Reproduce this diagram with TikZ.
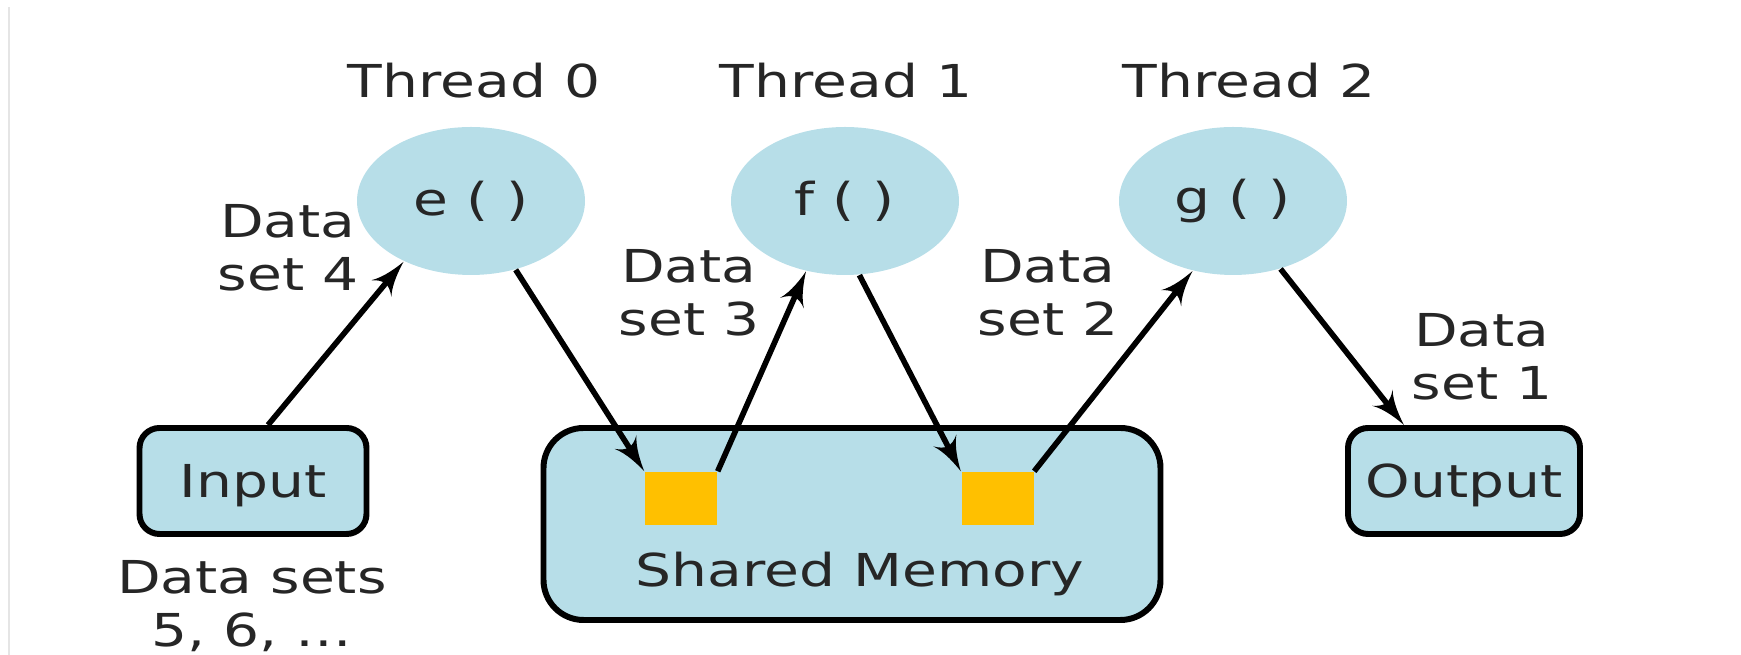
\documentclass[tikz,border=0pt]{standalone}
\usepackage{fontspec}
\setmainfont{DejaVu Sans}[FakeStretch=1.25]
\usetikzlibrary{arrows}
\usetikzlibrary{decorations.markings}
\usetikzlibrary{shapes.geometric}
\tikzset{flow/.style = {decoration={markings,
                                    mark=at position 1 with {\arrow[scale=1.3]{latex'}}},
                        postaction={decorate}, line width = 1.6pt, shorten >= 5pt}}
\tikzset{thread/.style = {ellipse, fill = lblue, minimum width = 22.8mm,
                          minimum height = 14.8mm, inner sep = 0}}
\tikzset{box/.style = {draw, fill = lblue, line width = 1.7pt, rounded corners = 2mm,
                       minimum height = 10.6mm, text depth = 0pt}}
\tikzset{cell/.style = {fill = myellow, minimum width = 7.2mm, minimum height = 5.3mm, inner sep = 0}}
\definecolor{lblue}{RGB}{183, 222, 232}
\definecolor{myellow}{RGB}{255, 192, 0}

\begin{document}
\begin{tikzpicture}[x = 0.1mm, y = 0.1mm, text = black!85,
                    font = \fontsize{12.9pt}{15pt}\selectfont]
    \useasboundingbox (0, 0) rectangle (1741, 655);
    \draw [black!10] (9, 0) -- (9, 648);

    \node [thread] (e) at (471, 454) {e ( )};
    \node [thread] (f) at (845, 454) {f ( )};
    \node [thread] (g) at (1233, 454) {g ( )};
    \node [anchor = base] (t0) at (474, 557) {Thread 0};
    \node [anchor = base] (t1) at (846, 557) {Thread 1};
    \node [anchor = base] (t2) at (1249, 557) {Thread 2};

    \node [box, minimum width = 22.7mm] (input) at (253, 174) {Input};
    \node [box, rounded corners = 4mm, minimum width = 61.7mm, minimum height = 19.2mm] (mem) at (852, 131) {};
    \node [cell] (c1) at (681, 156.5) {};
    \node [cell] (c2) at (997.5, 156.5) {};
    \node [anchor = base] (memtext) at (860, 68) {Shared Memory};
    \node [box, minimum width = 23.2mm] (output) at (1464, 174) {Output};

    \node [align = center] (ds4) at (288, 407) {Data\\set 4};
    \node [align = center] (ds3) at (689, 362) {Data\\set 3};
    \node [align = center] (ds2) at (1048, 362) {Data\\set 2};
    \node [align = center] (ds1) at (1482, 298) {Data\\set 1};
    \node [align = center] (dsin) at (252, 49) {Data sets\\5, 6, \dots};

    \draw [flow] (input.75) -- (e.222);
    \draw [flow] (e.303) -- (c1.north west);
    \draw [flow] (c1.north east) -- (f.241);
    \draw [flow] (f.281) -- (c2.north west);
    \draw [flow] (c2.north east) -- (g.240);
    \draw [flow] (g.305) -- (output.137);
\end{tikzpicture}
\end{document}
